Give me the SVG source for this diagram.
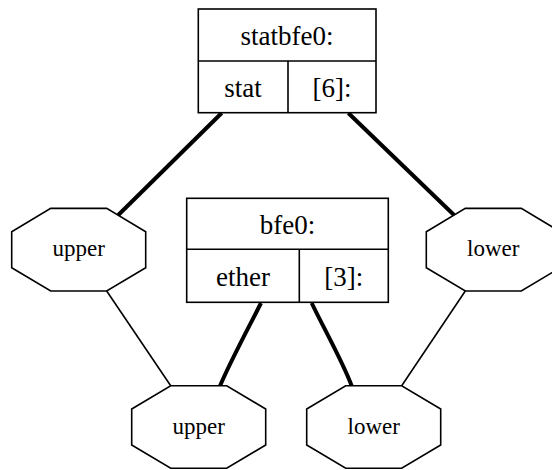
<svg xmlns="http://www.w3.org/2000/svg" width="552" height="470" viewBox="0 0 552 470">
  <style>
    .box { fill: #fff; stroke: #000; stroke-width: 1.6; }
    .div { fill: none; stroke: #000; stroke-width: 1.6; }
    .oct { fill: #fff; stroke: #000; stroke-width: 1.6; }
    text { font-family: 'Liberation Serif', 'Times New Roman', Times, 'DejaVu Serif', serif; fill: #000; text-anchor: middle; }
    .rec { font-size: 27px; }
    .lbl { font-size: 23px; }
    .thick { fill: none; stroke: #000; stroke-width: 4; }
    .thin { fill: none; stroke: #000; stroke-width: 1.6; }
  </style>
  <defs>
    <polygon id="octagon" points="-28,-41.3 28,-41.3 67,-18 67,18 28,41.3 -28,41.3 -67,18 -67,-18"/>
  </defs>
  <rect width="552" height="470" fill="#fff"/>

  <!-- connectors -->
  <g id="edges">
    <path class="thick" d="M221.7,113 L118.3,215"/>
    <path class="thick" d="M348.3,113 L454,215"/>
    <path class="thin" d="M106.7,291 L170.7,385.7"/>
    <path class="thin" d="M465.3,291 L401.7,385.7"/>
    <path class="thick" d="M261,303 C250,325 230,362 220,386"/>
    <path class="thick" d="M311.7,303 C322,325 343,362 351.7,386"/>
  </g>

  <!-- record: statbfe0 -->
  <g id="statbfe0">
    <rect class="box" x="198.3" y="9" width="177.7" height="103.7"/>
    <path class="div" d="M198.3,61 H376 M288,61 V112.7"/>
    <text class="rec" x="287" y="44.5">statbfe0:</text>
    <text class="rec" x="243" y="97">stat</text>
    <text class="rec" x="332" y="97">[6]:</text>
  </g>

  <!-- record: bfe0 -->
  <g id="bfe0">
    <rect class="box" x="186.7" y="198.3" width="201.6" height="104"/>
    <path class="div" d="M186.7,249.3 H388.3 M299.3,249.3 V302.3"/>
    <text class="rec" x="287.5" y="234">bfe0:</text>
    <text class="rec" x="243" y="286">ether</text>
    <text class="rec" x="343.8" y="286">[3]:</text>
  </g>

  <g id="upper_top">
    <use href="#octagon" class="oct" transform="translate(78.7,249.7)"/>
    <text class="lbl" x="78.7" y="256">upper</text>
  </g>

  <g id="lower_top">
    <use href="#octagon" class="oct" transform="translate(493.3,249.7)"/>
    <text class="lbl" x="493.3" y="256">lower</text>
  </g>

  <g id="upper_bottom">
    <use href="#octagon" class="oct" transform="translate(198.7,427)"/>
    <text class="lbl" x="198.7" y="434">upper</text>
  </g>

  <g id="lower_bottom">
    <use href="#octagon" class="oct" transform="translate(373.7,427)"/>
    <text class="lbl" x="373.7" y="434">lower</text>
  </g>
</svg>
